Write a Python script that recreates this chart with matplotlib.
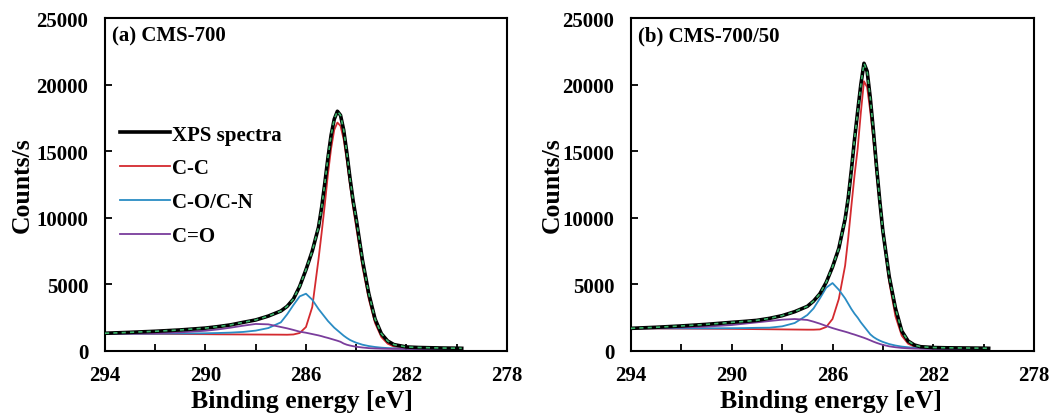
import matplotlib
matplotlib.use("Agg")
import matplotlib.pyplot as plt
from matplotlib.ticker import FixedLocator, MultipleLocator

plt.rcParams['font.family'] = ['Liberation Serif', 'DejaVu Serif']
plt.rcParams['font.weight'] = 'bold'

# binding energy grid (eV), shared by both panels
energy = [294, 293, 292, 291, 290, 289.5, 289, 288.5, 288, 287.5, 287, 286.75,
          286.5, 286.25, 286, 285.75, 285.5, 285.375, 285.25, 285.125, 285,
          284.875, 284.75, 284.625, 284.5, 284.375, 284.25, 284.125, 284,
          283.75, 283.5, 283.25, 283, 282.75, 282.5, 282, 281.5, 281, 280.5,
          280, 279.8]

x_major = [294, 290, 286, 282, 278]
x_minor = [292, 288, 284, 280]

# (a) CMS-700
spectra_a = [1330, 1400, 1480, 1580, 1720, 1830, 1960, 2150, 2330, 2620, 3000, 3350,
             3900, 4850, 6100, 7500, 9300, 10800, 12600, 14500, 16200,
             17400, 18000, 17700, 16600, 14900, 13000, 11300, 9900,
             6800, 4300, 2400, 1300, 750, 480, 300, 260, 240, 220,
             210, 200]
cc_a = [1300, 1290, 1280, 1270, 1260, 1250, 1245, 1240, 1235, 1230, 1225, 1220,
        1240, 1350, 1800, 3300, 6900, 8900, 11000, 13300, 15200,
        16600, 17150, 16900, 15900, 14300, 12500, 10800, 9300,
        6300, 3900, 2100, 1050, 550, 330, 200, 170, 160, 150,
        150, 150]
co_a = [1300, 1300, 1300, 1310, 1330, 1350, 1380, 1430, 1530, 1720, 2150, 2750,
        3450, 4100, 4300, 3850, 3150, 2850, 2550, 2250, 2000,
        1750, 1550, 1350, 1150, 980, 830, 720, 620,
        470, 370, 300, 250, 220, 200, 180, 165, 160, 155,
        150, 150]
ceqo_a = [1300, 1310, 1330, 1400, 1520, 1620, 1750, 1900, 2030, 2000, 1800, 1700,
          1580, 1450, 1370, 1270, 1170, 1110, 1040, 980, 910,
          840, 770, 690, 560, 470, 410, 360, 320,
          260, 215, 190, 175, 165, 160, 155, 150, 150, 150,
          150, 150]

# (b) CMS-700/50
spectra_b = [1700, 1780, 1880, 2000, 2150, 2220, 2300, 2450, 2650, 2950, 3350, 3750,
             4300, 5150, 6300, 7700, 9900, 11500, 13600, 15900, 18000,
             20000, 21600, 21000, 19000, 16500, 13800, 11300, 9000,
             5600, 3200, 1500, 750, 450, 320, 260, 240, 230, 220,
             210, 200]
cc_b = [1700, 1690, 1680, 1670, 1660, 1650, 1640, 1630, 1620, 1610, 1600, 1600,
        1620, 1800, 2400, 3900, 6400, 8500, 10900, 13200, 15200,
        17900, 20250, 19800, 18000, 15800, 13300, 11000, 8800,
        5200, 2600, 1150, 550, 320, 230, 180, 160, 150, 150,
        150, 150]
co_b = [1700, 1700, 1700, 1700, 1710, 1720, 1740, 1750, 1850, 2100, 2700, 3200,
        3950, 4750, 5100, 4600, 3950, 3550, 3150, 2800, 2500,
        2150, 1850, 1550, 1250, 1050, 900, 780, 680,
        520, 410, 330, 280, 240, 210, 180, 165, 160, 155,
        150, 150]
ceqo_b = [1700, 1720, 1760, 1830, 1950, 2050, 2150, 2250, 2350, 2400, 2330, 2200,
          2050, 1880, 1720, 1580, 1450, 1380, 1300, 1230, 1150,
          1070, 990, 900, 800, 700, 610, 530, 460,
          350, 280, 230, 200, 180, 170, 160, 155, 150, 150,
          150, 150]

panels = [
    ("(a) CMS-700", spectra_a, cc_a, co_a, ceqo_a),
    ("(b) CMS-700/50", spectra_b, cc_b, co_b, ceqo_b),
]

c_red = '#d42a2f'
c_blue = '#2a8cc4'
c_purple = '#7a3d9c'
c_green = '#3bb36a'

fig = plt.figure(figsize=(10.52, 4.14), dpi=100)
ax_pos = [[0.0998, 0.1498, 0.3821, 0.8043],
          [0.5998, 0.1498, 0.3831, 0.8043]]

for i, (title, spec, cc, co, ceqo) in enumerate(panels):
    ax = fig.add_axes(ax_pos[i])

    ax.plot(energy, spec, color='black', lw=2.6, label='XPS spectra', zorder=3)
    ax.plot(energy, spec, color=c_green, lw=1.2, ls=(0, (2.5, 2.5)), zorder=4)
    ax.plot(energy, cc, color=c_red, lw=1.3, label='C-C', zorder=2)
    ax.plot(energy, co, color=c_blue, lw=1.3, label='C-O/C-N', zorder=2)
    ax.plot(energy, ceqo, color=c_purple, lw=1.3, label='C=O', zorder=2)

    ax.set_xlim(294, 278)
    ax.set_ylim(0, 25000)
    ax.xaxis.set_major_locator(FixedLocator(x_major))
    ax.xaxis.set_minor_locator(FixedLocator(x_minor))
    ax.yaxis.set_major_locator(MultipleLocator(5000))
    ax.tick_params(axis='both', which='both', direction='in', width=1.3,
                   labelsize=15, length=5)
    ax.tick_params(axis='x', pad=10)
    ax.tick_params(axis='y', pad=12)
    ax.tick_params(top=False, right=False)
    for s in ax.spines.values():
        s.set_linewidth(1.5)

    ax.text(0.017, 0.946, title, transform=ax.transAxes, fontsize=15,
            fontweight='bold', va='center', ha='left')

    ax.set_xlabel('Binding energy [eV]', fontsize=18.5, fontweight='bold')
    ax.set_ylabel('Counts/s', fontsize=18.5, fontweight='bold')
    ax.xaxis.set_label_coords(0.49 if i == 0 else 0.495, -0.15)
    ax.xaxis.label.set_va('center')
    ax.yaxis.set_label_coords(-0.206 if i == 0 else -0.196, 0.5)
    ax.yaxis.label.set_va('center')

    if i == 0:
        ax.legend(loc='upper left', bbox_to_anchor=(0.037, 0.68), frameon=False,
                  borderaxespad=0, borderpad=0, handlelength=2.4,
                  handletextpad=0.1, labelspacing=0.66,
                  prop={'size': 15, 'weight': 'bold'})

fig.savefig('out.png', dpi=100)
